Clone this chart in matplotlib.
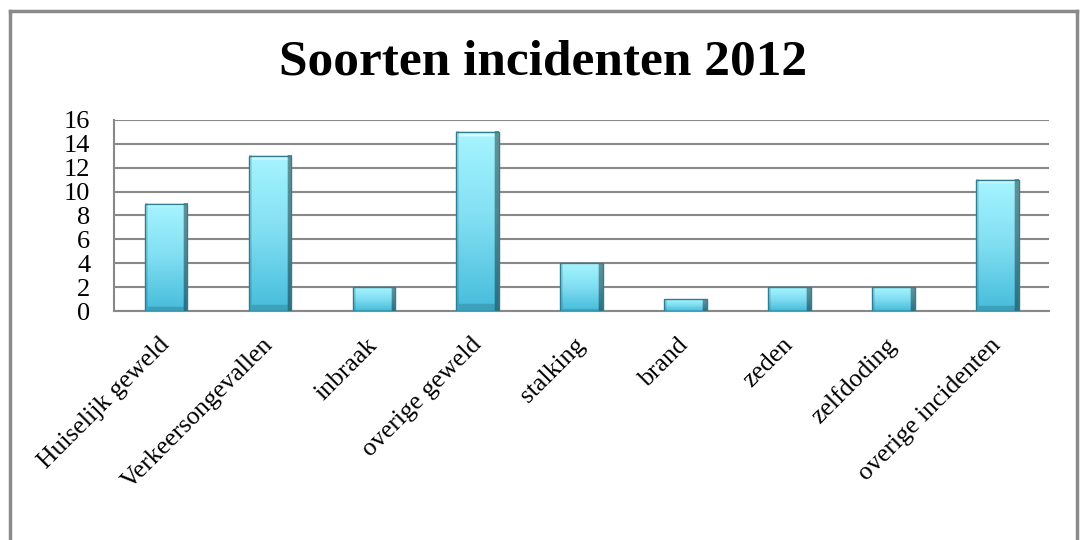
import numpy as np
import matplotlib
matplotlib.use("Agg")
import matplotlib.pyplot as plt
from matplotlib.colors import LinearSegmentedColormap
from matplotlib.lines import Line2D

# Gegevens
categorieen = ["Huiselijk geweld", "Verkeersongevallen", "inbraak", "overige geweld",
               "stalking", "brand", "zeden", "zelfdoding", "overige incidenten"]
aantallen = [9, 13, 2, 15, 4, 1, 2, 2, 11]
y_ticks = [0, 2, 4, 6, 8, 10, 12, 14, 16]
titel = "Soorten incidenten 2012"

plt.rcParams["font.family"] = ["Liberation Serif", "DejaVu Serif"]

fig = plt.figure(figsize=(10.8, 5.4), dpi=100)
ax = fig.add_axes([0.1056, 0.424, 0.866, 0.354])

x = np.arange(len(categorieen))
bars = ax.bar(x, aantallen, width=0.41, color="none", edgecolor="none", zorder=3)

# Gradient voor de staven (verticaal licht -> donker, randen als afschuining)
verticaal = LinearSegmentedColormap.from_list("v", ["#a6f5ff", "#80def2", "#45bcdb"])
nx, ny = 60, 200
vy = np.linspace(0, 1, ny)[:, None, None]
rgb = verticaal(vy[:, :, 0])[:, :, :3] * np.ones((1, nx, 1))
xs = np.linspace(0, 1, nx)[None, :, None]
schaduw = np.where(xs > 0.9, 0.6, np.where(xs < 0.06, 0.88, 1.0))
rgb = rgb * schaduw
# lichte band bovenaan, donkere band onderaan
top = (vy < 0.03) & (xs > 0.06) & (xs < 0.9)
rgb = np.where(top, np.array([0.82, 0.98, 1.0]), rgb)
onder = (vy > 0.96) & (xs > 0.06) & (xs < 0.9)
rgb = np.where(onder, rgb * 0.85, rgb)

for b in bars:
    x0, y0 = b.get_x(), b.get_y()
    w, h = b.get_width(), b.get_height()
    ax.imshow(rgb, extent=[x0, x0 + w, y0, y0 + h], aspect="auto",
              origin="upper", zorder=3, interpolation="bilinear")
    ax.add_patch(plt.Rectangle((x0, y0), w, h, fill=False,
                               edgecolor="#2e7f93", lw=1.0, zorder=4))

ax.set_xlim(-0.5, len(categorieen) - 0.5)
ax.set_ylim(0, 16)
ax.set_yticks(y_ticks)
ax.set_yticklabels([str(v) for v in y_ticks], fontsize=19)
ax.set_xticks(x)
ax.set_xticklabels(categorieen, rotation=45, ha="right", va="center",
                   rotation_mode="anchor", fontsize=18.5)
ax.tick_params(axis="y", length=0, pad=17)
ax.tick_params(axis="x", length=0, pad=22)

ax.yaxis.grid(True, color="#888888", lw=1.5, zorder=0)
ax.set_axisbelow(True)
for s in ["top", "right"]:
    ax.spines[s].set_visible(False)
for s in ["left", "bottom"]:
    ax.spines[s].set_color("#888888")
    ax.spines[s].set_linewidth(1.5)

fig.text(0.503, 0.885, titel, ha="center", va="center", fontsize=37,
         fontweight="bold")

# Rand van de grafiek
rand = dict(color="#8a8a8a", lw=2.5, transform=fig.transFigure)
fig.add_artist(Line2D([10 / 1080, 1077 / 1080], [1 - 11 / 540, 1 - 11 / 540], **rand))
fig.add_artist(Line2D([10 / 1080, 10 / 1080], [0, 1 - 11 / 540], **rand))
fig.add_artist(Line2D([1077 / 1080, 1077 / 1080], [0, 1 - 11 / 540], **rand))

fig.savefig("out.png", dpi=100)
